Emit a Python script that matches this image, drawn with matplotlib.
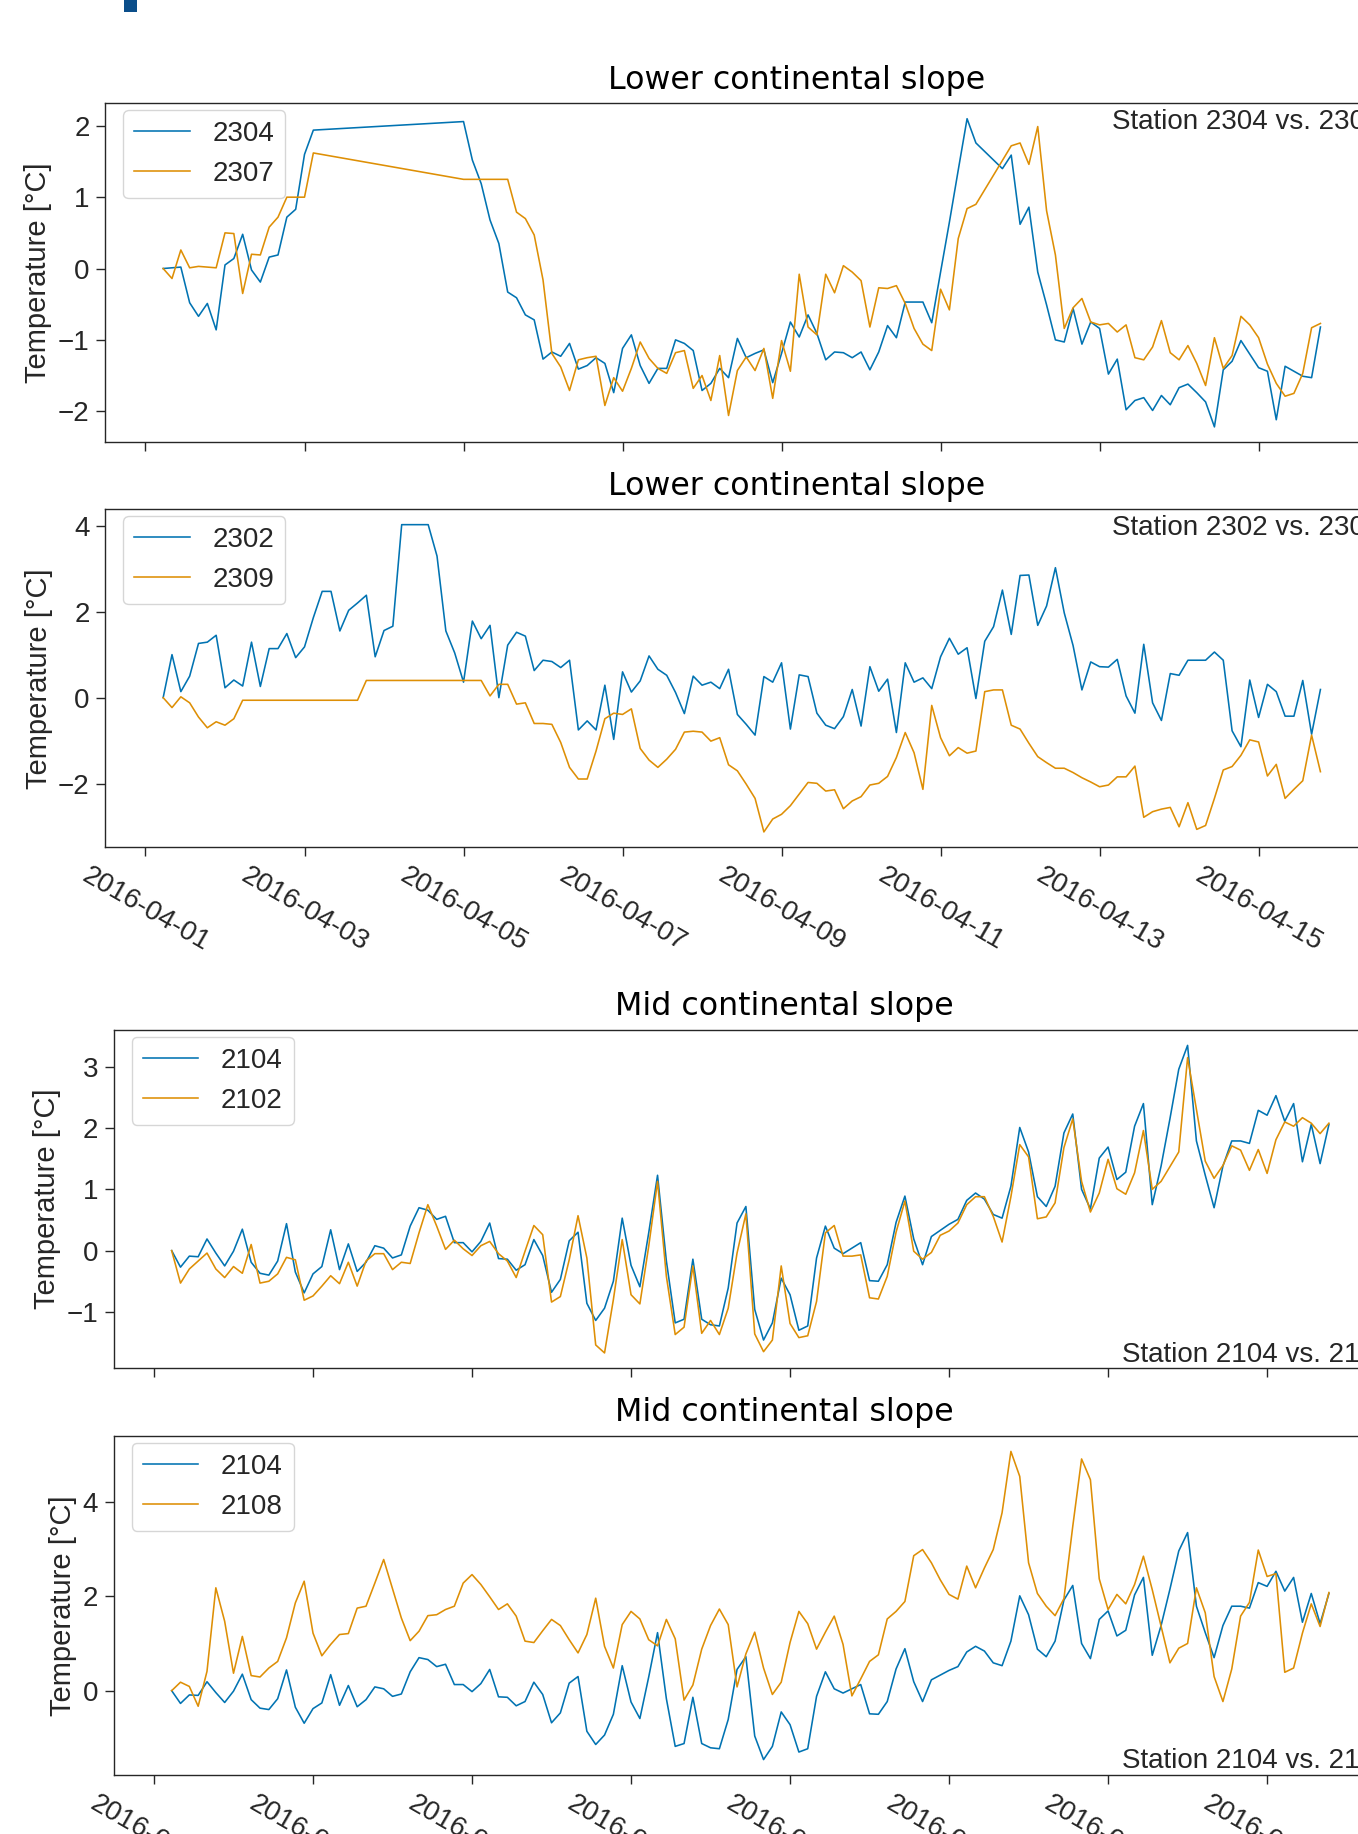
import numpy as np
import pandas as pd
import matplotlib
matplotlib.use("Agg")
import matplotlib.pyplot as plt
import matplotlib.dates as mdates
from matplotlib.patches import Rectangle

plt.rcParams['font.family'] = ['Liberation Sans', 'DejaVu Sans']
plt.rcParams['text.color'] = '.15'
plt.rcParams['axes.labelcolor'] = '.15'
plt.rcParams['xtick.color'] = '.15'
plt.rcParams['ytick.color'] = '.15'

nan = np.nan

# sampling times shared by every station (one reading every 160 min)
times = pd.date_range('2016-04-01 05:20', periods=132, freq='160min')

# temperature anomaly relative to first reading [degC]; nan = no reading
t2304 = [0.0, 0.01, 0.02, -0.48, -0.67, -0.49, -0.86, 0.05, 0.14, 0.48,
         -0.02, -0.19, 0.16, 0.19, 0.72, 0.83, 1.60, 1.94] + [nan] * 16 + \
        [2.06, 1.52, 1.19, 0.68, 0.35, -0.33, -0.41, -0.65, -0.72, -1.27,
         -1.17, -1.23, -1.05, -1.41, -1.36, -1.25, -1.33, -1.74, -1.12, -0.93,
         -1.36, -1.61, -1.40, -1.40, -1.00, -1.05, -1.15, -1.71, -1.61, -1.40,
         -1.53, -0.98, -1.25, -1.19, -1.14, -1.60, -1.19, -0.75, -0.96, -0.65,
         -0.91, -1.28, -1.17, -1.18, -1.25, -1.17, -1.42, -1.17, -0.80, -0.97,
         -0.47, -0.47, -0.47, -0.76, -0.05, 0.65, 1.38, 2.10, 1.76, nan,
         nan, 1.40, 1.59, 0.62, 0.86, -0.05, -0.51, -1.00, -1.03, -0.56,
         -1.06, -0.75, -0.84, -1.48, -1.27, -1.98, -1.85, -1.81, -1.99, -1.78,
         -1.91, -1.67, -1.62, -1.74, -1.87, -2.22, -1.42, -1.30, -1.01, -1.20,
         -1.39, -1.44, -2.12, -1.37, -1.44, -1.51, -1.53, -0.82]

t2307 = [0.0, -0.14, 0.26, 0.01, 0.03, 0.02, 0.01, 0.50, 0.49, -0.35,
         0.20, 0.19, 0.58, 0.72, 1.00, 1.00, 1.00, 1.62] + [nan] * 16 + \
        [1.25, nan, nan, nan, nan, 1.25, 0.79, 0.70, 0.47, -0.16,
         -1.19, -1.38, -1.71, -1.28, -1.25, -1.23, -1.92, -1.53, -1.72, -1.40,
         -1.03, -1.26, -1.40, -1.47, -1.18, -1.15, -1.68, -1.50, -1.85, -1.22,
         -2.06, -1.43, -1.24, -1.43, -1.12, -1.82, -1.01, -1.44, -0.08, -0.82,
         -0.93, -0.08, -0.34, 0.04, -0.05, -0.17, -0.82, -0.27, -0.28, -0.24,
         -0.49, -0.84, -1.06, -1.15, -0.29, -0.58, 0.42, 0.84, 0.90, nan,
         nan, nan, 1.72, 1.76, 1.46, 1.99, 0.81, 0.19, -0.84, -0.55,
         -0.42, -0.75, -0.79, -0.77, -0.89, -0.79, -1.25, -1.28, -1.10, -0.73,
         -1.18, -1.28, -1.08, -1.33, -1.64, -0.97, -1.40, -1.22, -0.67, -0.79,
         -0.97, -1.34, -1.61, -1.79, -1.75, -1.47, -0.83, -0.77]

t2302 = [0.0, 1.0, 0.14, 0.5, 1.26, 1.29, 1.45, 0.23, 0.41, 0.27,
         1.29, 0.26, 1.14, 1.14, 1.49, 0.93, 1.18, 1.86, 2.47, 2.47,
         1.55, 2.03, 2.20, 2.38, 0.95, 1.56, 1.66, 4.02, 4.02, 4.02,
         4.02, 3.29, 1.55, 1.04, 0.36, 1.78, 1.37, 1.68, 0.0, 1.22,
         1.52, 1.43, 0.63, 0.87, 0.84, 0.70, 0.87, -0.75, -0.54, -0.75,
         0.29, -0.97, 0.60, 0.13, 0.39, 0.97, 0.66, 0.52, 0.12, -0.37,
         0.50, 0.29, 0.36, 0.21, 0.66, -0.39, -0.62, -0.87, 0.49, 0.36,
         0.81, -0.73, 0.53, 0.49, -0.36, -0.64, -0.72, -0.44, 0.19, -0.66,
         0.72, 0.15, 0.43, -0.81, 0.81, 0.36, 0.46, 0.21, 0.95, 1.38,
         1.01, 1.16, -0.02, 1.31, 1.65, 2.50, 1.47, 2.84, 2.85, 1.68,
         2.13, 3.02, 1.97, 1.21, 0.18, 0.83, 0.72, 0.71, 0.89, 0.04,
         -0.36, 1.24, -0.12, -0.53, 0.56, 0.52, 0.87, 0.87, 0.87, 1.06,
         0.87, -0.77, -1.14, 0.41, -0.46, 0.31, 0.14, -0.43, -0.43, 0.40,
         -0.85, 0.19]

t2309 = [0.0, -0.23, 0.02, -0.12, -0.45, -0.70, -0.56, -0.64, -0.49, -0.06] + \
        [nan] * 12 + [-0.06, 0.40] + [nan] * 12 + \
        [0.40, 0.04, 0.31, 0.31, -0.15, -0.12, -0.60, -0.60, -0.62, -1.04,
         -1.62, -1.89, -1.89, -1.24, -0.49, -0.36, -0.39, -0.26, -1.18, -1.45,
         -1.62, -1.43, -1.20, -0.80, -0.78, -0.80, -1.01, -0.93, -1.56, -1.70,
         -2.01, -2.34, -3.12, -2.82, -2.71, -2.51, -2.24, -1.97, -1.99, -2.17,
         -2.14, -2.58, -2.40, -2.30, -2.03, -1.99, -1.83, -1.39, -0.81, -1.28,
         -2.13, -0.18, -0.93, -1.35, -1.16, -1.29, -1.24, 0.14, 0.18, 0.18,
         -0.64, -0.73, -1.06, -1.37, -1.51, -1.64, -1.64, -1.74, -1.86, -1.96,
         -2.07, -2.03, -1.84, -1.84, -1.59, -2.78, -2.65, -2.59, -2.55, -3.00,
         -2.44, -3.06, -2.97, -2.34, -1.68, -1.60, -1.34, -0.98, -1.03, -1.82,
         -1.55, -2.34, -2.13, -1.93, -0.87, -1.72]

t2104 = [0.0, -0.27, -0.09, -0.10, 0.19, -0.04, -0.25, -0.01, 0.35, -0.19,
         -0.37, -0.40, -0.17, 0.44, -0.35, -0.69, -0.38, -0.26, 0.34, -0.31,
         0.11, -0.34, -0.19, 0.08, 0.04, -0.12, -0.07, 0.40, 0.70, 0.66,
         0.51, 0.56, 0.13, 0.13, -0.02, 0.15, 0.45, -0.13, -0.14, -0.32,
         -0.23, 0.18, -0.08, -0.68, -0.47, 0.16, 0.30, -0.86, -1.14, -0.94,
         -0.50, 0.53, -0.24, -0.59, 0.29, 1.23, -0.17, -1.18, -1.12, -0.14,
         -1.12, -1.21, -1.23, -0.61, 0.45, 0.72, -0.96, -1.46, -1.18, -0.45,
         -0.72, -1.30, -1.23, -0.12, 0.40, 0.04, -0.05, 0.04, 0.13, -0.49,
         -0.50, -0.23, 0.46, 0.89, 0.19, -0.23, 0.23, 0.33, 0.43, 0.51,
         0.82, 0.94, 0.84, 0.59, 0.53, 1.05, 2.01, 1.61, 0.88, 0.72,
         1.05, 1.92, 2.23, 1.00, 0.68, 1.51, 1.69, 1.16, 1.28, 2.03,
         2.40, 0.75, 1.38, 2.15, 2.96, 3.35, 1.79, 1.23, 0.70, 1.38,
         1.79, 1.79, 1.75, 2.29, 2.21, 2.53, 2.11, 2.40, 1.45, 2.06,
         1.42, 2.06]

t2102 = [0.0, -0.53, -0.30, -0.17, -0.04, -0.30, -0.44, -0.26, -0.37, 0.10,
         -0.53, -0.50, -0.38, -0.11, -0.15, -0.81, -0.74, -0.58, -0.41, -0.54,
         -0.19, -0.58, -0.17, -0.05, -0.05, -0.31, -0.19, -0.21, 0.29, 0.75,
         0.40, 0.02, 0.17, 0.03, -0.08, 0.08, 0.15, -0.05, -0.17, -0.44,
         -0.01, 0.41, 0.26, -0.84, -0.75, -0.15, 0.57, -0.12, -1.54, -1.67,
         -0.80, 0.18, -0.72, -0.87, 0.07, 1.13, -0.42, -1.37, -1.25, -0.25,
         -1.35, -1.14, -1.37, -0.94, -0.04, 0.60, -1.36, -1.65, -1.46, -0.25,
         -1.19, -1.42, -1.39, -0.83, 0.29, 0.41, -0.09, -0.09, -0.07, -0.77,
         -0.79, -0.42, 0.30, 0.81, -0.01, -0.14, -0.03, 0.25, 0.32, 0.45,
         0.75, 0.88, 0.88, 0.56, 0.14, 0.88, 1.73, 1.53, 0.52, 0.55,
         0.78, 1.68, 2.15, 1.13, 0.63, 0.94, 1.49, 1.01, 0.92, 1.27,
         1.96, 1.00, 1.13, 1.37, 1.61, 3.15, 2.31, 1.46, 1.18, 1.39,
         1.71, 1.64, 1.31, 1.65, 1.26, 1.81, 2.10, 2.03, 2.17, 2.08,
         1.91, 2.08]

t2108 = [0.0, 0.18, 0.09, -0.33, 0.41, 2.18, 1.47, 0.37, 1.15, 0.32,
         0.29, 0.48, 0.62, 1.12, 1.86, 2.32, 1.22, 0.74, 0.98, 1.19,
         1.21, 1.75, 1.79, 2.28, 2.78, 2.16, 1.54, 1.06, 1.26, 1.59,
         1.61, 1.72, 1.79, 2.28, 2.46, 2.25, 1.99, 1.72, 1.84, 1.58,
         1.05, 1.02, 1.27, 1.51, 1.38, 1.08, 0.80, 1.19, 1.96, 0.94,
         0.48, 1.40, 1.68, 1.52, 1.08, 0.95, 1.51, 1.10, -0.20, 0.12,
         0.88, 1.38, 1.73, 1.40, 0.08, 0.78, 1.24, 0.48, -0.08, 0.18,
         1.02, 1.68, 1.42, 0.88, 1.24, 1.58, 0.98, -0.11, 0.25, 0.62,
         0.76, 1.52, 1.68, 1.89, 2.86, 2.99, 2.71, 2.35, 2.04, 1.94,
         2.64, 2.18, 2.60, 2.99, 3.77, 5.07, 4.54, 2.71, 2.06, 1.79,
         1.59, 1.95, 3.48, 4.91, 4.47, 2.37, 1.72, 2.04, 1.84, 2.25,
         2.85, 2.14, 1.36, 0.59, 0.90, 1.00, 2.18, 1.65, 0.30, -0.23,
         0.46, 1.58, 1.87, 2.98, 2.42, 2.48, 0.39, 0.48, 1.22, 1.84,
         1.36, 2.08]

panels = [
    ("Lower continental slope", "2304", t2304, "2307", t2307, "top"),
    ("Lower continental slope", "2302", t2302, "2309", t2309, "top"),
    ("Mid continental slope", "2104", t2104, "2102", t2102, "bottom"),
    ("Mid continental slope", "2104", t2104, "2108", t2108, "bottom"),
]

W, H = 1358, 1834
fig = plt.figure(figsize=(W / 100, H / 100), dpi=100)

# axes boxes in pixels: left, top, bottom, width
boxes = [(105.3, 103.3, 442.3, 1273),
         (105.3, 509.3, 847.3, 1273),
         (113.8, 1030.0, 1368.3, 1273),
         (113.8, 1436.0, 1775.0, 1273)]
title_x = [0.5434, 0.5434, 0.527, 0.527]

BLUE = '#0173B2'
ORANGE = '#DE8F05'

for k, ((title, n1, v1, n2, v2, corner), (left, top, bottom, width)) in enumerate(zip(panels, boxes)):
    ax = fig.add_axes([left / W, 1 - bottom / H, width / W, (bottom - top) / H])
    s1 = pd.Series(v1, index=times).dropna()
    s2 = pd.Series(v2, index=times).dropna()
    ax.plot(s1.index, s1.values, color=BLUE, lw=1.15, label=n1)
    ax.plot(s2.index, s2.values, color=ORANGE, lw=1.15, label=n2)

    ax.set_title(title, fontsize=22.8, family='DejaVu Sans', color='k',
                 x=title_x[k], pad=10.5)
    ax.set_ylabel("Temperature [°C]", fontsize=21)
    ax.legend(loc='upper left', bbox_to_anchor=(18 / width, 1 - 6.7 / (bottom - top)),
              borderaxespad=0, fontsize=20, edgecolor='0.8', framealpha=0.8)

    label = f"Station {n1} vs. {n2}"
    if corner == "top":
        ax.text(0.7906, 0.924, label, transform=ax.transAxes, ha='left',
                va='baseline', fontsize=20)
    else:
        ax.text(0.792, 0.02, label, transform=ax.transAxes, ha='left',
                va='baseline', fontsize=20)

    ax.xaxis.set_major_locator(mdates.DayLocator(bymonthday=range(1, 32, 2)))
    ax.xaxis.set_major_formatter(mdates.DateFormatter('%Y-%m-%d'))
    ax.tick_params(axis='both', labelsize=20, length=6.2, width=1.0, pad=5,
                   direction='out')
    for sp in ax.spines.values():
        sp.set_color('.15')
        sp.set_linewidth(1.0)
    if k % 2 == 0:
        ax.tick_params(axis='x', labelbottom=False)
    else:
        plt.setp(ax.get_xticklabels(), rotation=-30, ha='center')

# small header mark at the top of the page
fig.add_artist(Rectangle((124 / W, 1 - 12.3 / H), 12.7 / W, 12.3 / H,
                         transform=fig.transFigure, color='#0B4E8A', lw=0))

fig.savefig("out.png", dpi=100)
